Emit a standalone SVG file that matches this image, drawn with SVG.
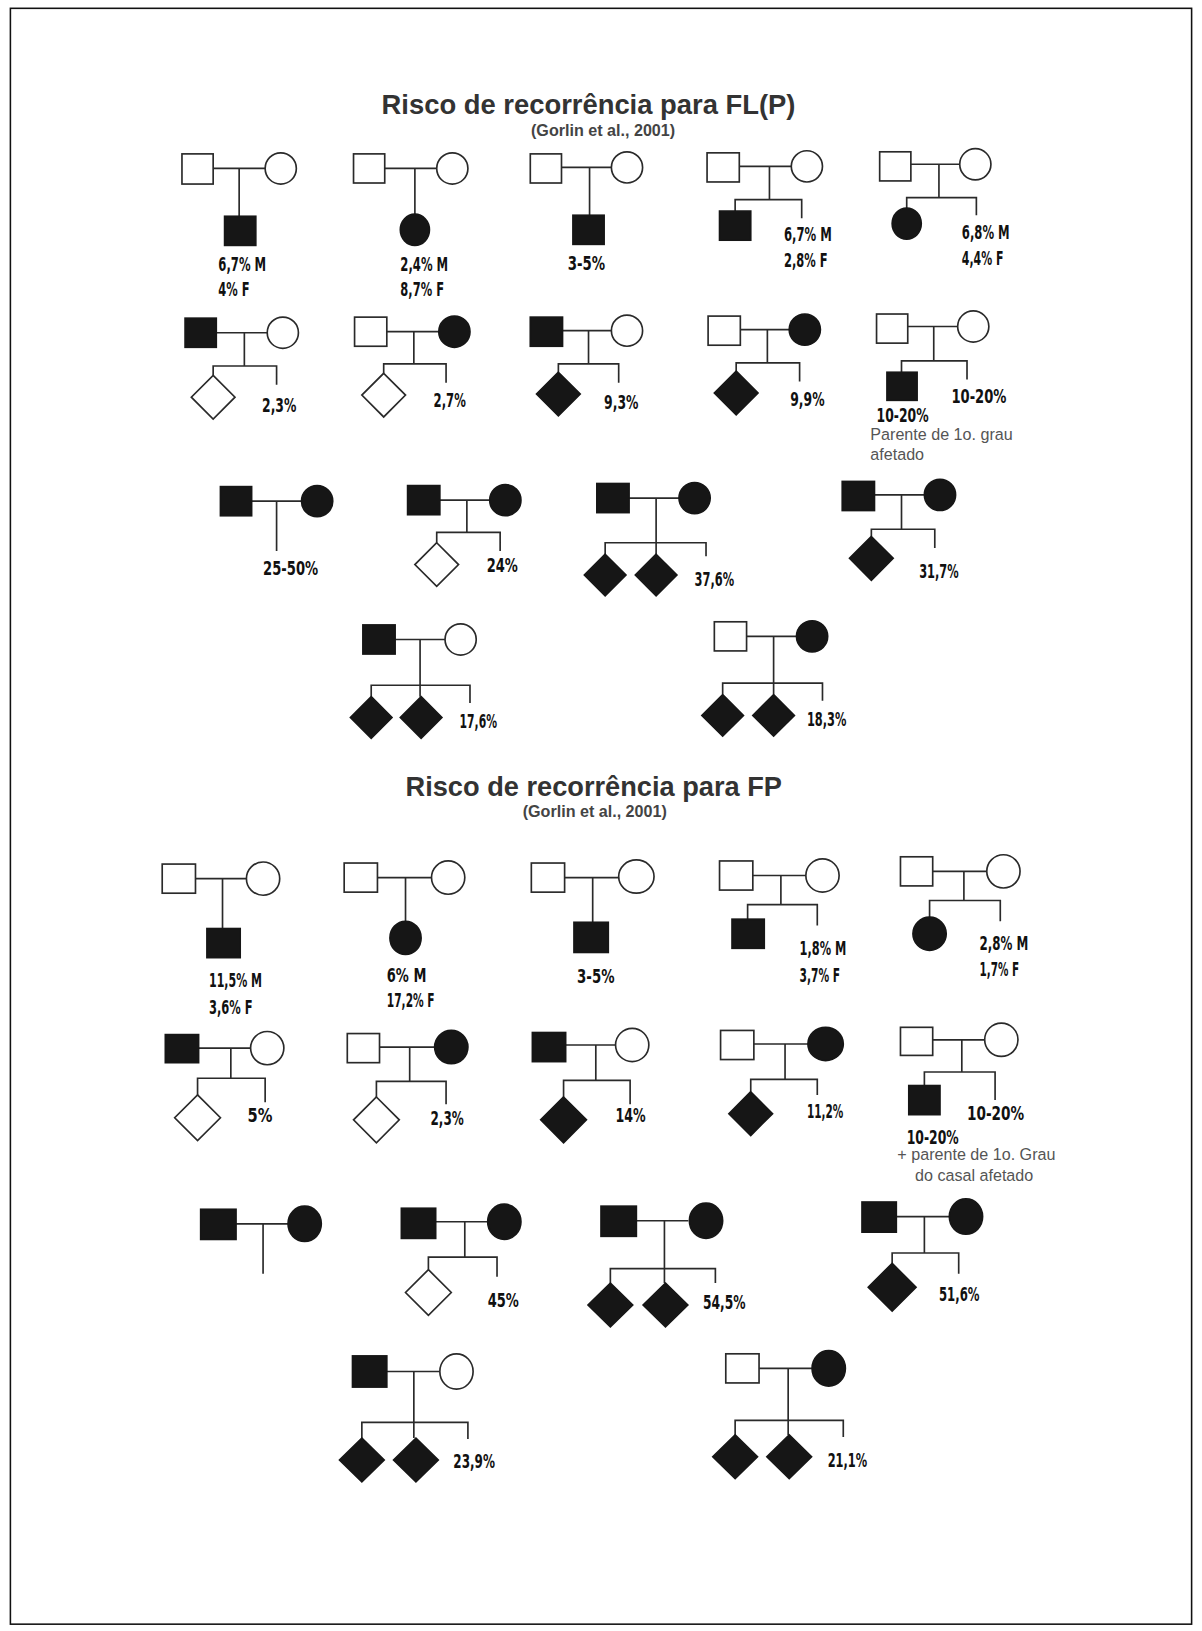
<svg xmlns="http://www.w3.org/2000/svg" width="1202" height="1631" viewBox="0 0 1202 1631">
<style>
.o{fill:#fff;stroke:#2a2a2a;stroke-width:1.6}
.f{fill:#161616;stroke:#161616;stroke-width:1.6}
.c path{fill:none;stroke:#2a2a2a;stroke-width:1.6}
.l{font-family:"DejaVu Sans Condensed","DejaVu Sans",sans-serif;font-weight:bold;font-size:18px;fill:#111}
.t1{font-family:"Liberation Sans",Arial,sans-serif;font-weight:bold;font-size:26px;fill:#333;text-anchor:middle}
.t2{font-family:"Liberation Sans",Arial,sans-serif;font-weight:bold;font-size:15.5px;fill:#444;text-anchor:middle}
.n{font-family:"Liberation Sans",Arial,sans-serif;font-size:15.5px;fill:#555}
</style>
<rect x="0" y="0" width="1202" height="1631" fill="#fff"/>
<g transform="scale(1.0398)">
<rect x="10" y="8" width="1136" height="1554" fill="none" stroke="#111" stroke-width="1.5"/>
<g id="titles">
<text class="t1" x="566" y="110" textLength="398" lengthAdjust="spacingAndGlyphs">Risco de recorrência para FL(P)</text>
<text class="t2" x="580" y="131">(Gorlin et al., 2001)</text>
<text class="t1" x="571" y="766" textLength="362" lengthAdjust="spacingAndGlyphs">Risco de recorrência para FP</text>
<text class="t2" x="572" y="786">(Gorlin et al., 2001)</text>
</g>
<g id="connectors" class="c">
<path d="M205,162H255M230,162V208"/>
<path d="M370,162H420M399,162V207"/>
<path d="M540,161H588M567,161V207"/>
<path d="M711,160H761M740,160V192M707,203V192H771V210"/>
<path d="M876,158H923M903,158V190M872,201V190H939V207"/>
<path d="M208,320H257M235,320V352M205,361V352H266V370"/>
<path d="M372,319H422M398,319V350M369,359V350H429V368"/>
<path d="M541,318H588M566,318V350M537,358V350H595V368"/>
<path d="M712,317H759M738,317V349M708,357V349H769V367"/>
<path d="M873,314H921M898,314V347M867,358V347H930V365"/>
<path d="M242,482H290M266,482V530"/>
<path d="M423,481H471M449,481V512M420,522V512H481V530"/>
<path d="M605,479H653M631,479V533M582,533V522H679V535"/>
<path d="M841,476H889M867,476V509M838,516V509H899V527"/>
<path d="M380,615H428M404,615V670M357,670V659H452V676"/>
<path d="M718,612H766M744,612V668M695,668V657H791V674"/>
<path d="M188,845H237M214,845V893"/>
<path d="M363,844H415M390,844V887"/>
<path d="M543,844H595M570,844V887"/>
<path d="M724,842H775M751,842V870M719,884V870H786V890"/>
<path d="M897,838H949M927,838V866M894,882V866H962V886"/>
<path d="M191,1008H241M222,1008V1037M190,1053V1037H255V1060"/>
<path d="M365,1007H418M394,1007V1040M362,1055V1040H429V1062"/>
<path d="M544,1005H592M573,1005V1039M542,1055V1039H606V1062"/>
<path d="M725,1004H777M755,1004V1038M722,1050V1038H786V1053"/>
<path d="M897,1000H947M925,1000V1031M889,1044V1031H957V1058"/>
<path d="M227,1177H277M253,1177V1225"/>
<path d="M419,1175H469M447,1175V1209M412,1221V1209H478V1228"/>
<path d="M611,1174H662M639,1174V1234M587,1234V1220H688V1234"/>
<path d="M862,1170H913M889,1170V1205M858,1215V1205H922V1225"/>
<path d="M372,1319H423M398,1319V1383M348,1383V1368H450V1384"/>
<path d="M730,1316H781M758,1316V1380M707,1380V1366H811V1382"/>
</g>
<g id="flp-1"><rect class="o" x="175" y="148" width="30" height="29"/><ellipse class="o" cx="270" cy="162" rx="15" ry="15"/><rect class="f" x="216" y="208" width="30" height="28"/>
<text class="l" x="210" y="261" textLength="46" lengthAdjust="spacingAndGlyphs">6,7% M</text><text class="l" x="210" y="285" textLength="30" lengthAdjust="spacingAndGlyphs">4% F</text></g>
<g id="flp-2"><rect class="o" x="340" y="148" width="30" height="28"/><ellipse class="o" cx="435" cy="162" rx="15" ry="15"/><ellipse class="f" cx="399" cy="221" rx="14" ry="15"/>
<text class="l" x="385" y="261" textLength="46" lengthAdjust="spacingAndGlyphs">2,4% M</text><text class="l" x="385" y="285" textLength="42" lengthAdjust="spacingAndGlyphs">8,7% F</text></g>
<g id="flp-3"><rect class="o" x="510" y="148" width="30" height="28"/><ellipse class="o" cx="603" cy="161" rx="15" ry="15"/><rect class="f" x="551" y="207" width="30" height="28"/>
<text class="l" x="546" y="260" textLength="36" lengthAdjust="spacingAndGlyphs">3-5%</text></g>
<g id="flp-4"><rect class="o" x="680" y="147" width="31" height="28"/><ellipse class="o" cx="776" cy="160" rx="15" ry="15"/><rect class="f" x="692" y="203" width="30" height="28"/>
<text class="l" x="754" y="232" textLength="46" lengthAdjust="spacingAndGlyphs">6,7% M</text><text class="l" x="754" y="257" textLength="42" lengthAdjust="spacingAndGlyphs">2,8% F</text></g>
<g id="flp-5"><rect class="o" x="846" y="146" width="30" height="28"/><ellipse class="o" cx="938" cy="158" rx="15" ry="15"/><ellipse class="f" cx="872" cy="215" rx="14" ry="15"/>
<text class="l" x="925" y="230" textLength="46" lengthAdjust="spacingAndGlyphs">6,8% M</text><text class="l" x="925" y="255" textLength="40" lengthAdjust="spacingAndGlyphs">4,4% F</text></g>
<g id="flp-6"><rect class="f" x="178" y="306" width="30" height="28"/><ellipse class="o" cx="272" cy="320" rx="15" ry="15"/><polygon class="o" points="205,361 226,382 205,403 184,382"/>
<text class="l" x="252" y="396" textLength="33" lengthAdjust="spacingAndGlyphs">2,3%</text></g>
<g id="flp-7"><rect class="o" x="341" y="305" width="31" height="28"/><ellipse class="f" cx="437" cy="319" rx="15" ry="15"/><polygon class="o" points="369,359 390,380 369,401 348,380"/>
<text class="l" x="417" y="391" textLength="31" lengthAdjust="spacingAndGlyphs">2,7%</text></g>
<g id="flp-8"><rect class="f" x="510" y="305" width="31" height="28"/><ellipse class="o" cx="603" cy="318" rx="15" ry="15"/><polygon class="f" points="537,358 558,379 537,400 516,379"/>
<text class="l" x="581" y="393" textLength="33" lengthAdjust="spacingAndGlyphs">9,3%</text></g>
<g id="flp-9"><rect class="o" x="681" y="304" width="31" height="28"/><ellipse class="f" cx="774" cy="317" rx="15" ry="15"/><polygon class="f" points="708,357 729,378 708,399 687,378"/>
<text class="l" x="760" y="390" textLength="33" lengthAdjust="spacingAndGlyphs">9,9%</text></g>
<g id="flp-10"><rect class="o" x="843" y="302" width="30" height="28"/><ellipse class="o" cx="936" cy="314" rx="15" ry="15"/><rect class="f" x="853" y="358" width="29" height="27"/>
<text class="l" x="915" y="388" textLength="53" lengthAdjust="spacingAndGlyphs">10-20%</text><text class="l" x="843" y="406" textLength="50" lengthAdjust="spacingAndGlyphs">10-20%</text>
<text class="n" x="837" y="423">Parente de 1o. grau</text><text class="n" x="837" y="442">afetado</text></g>
<g id="flp-11"><rect class="f" x="212" y="468" width="30" height="28"/><ellipse class="f" cx="305" cy="482" rx="15" ry="15"/>
<text class="l" x="253" y="553" textLength="53" lengthAdjust="spacingAndGlyphs">25-50%</text></g>
<g id="flp-12"><rect class="f" x="392" y="467" width="31" height="28"/><ellipse class="f" cx="486" cy="481" rx="15" ry="15"/><polygon class="o" points="420,522 441,543 420,564 399,543"/>
<text class="l" x="468" y="550" textLength="30" lengthAdjust="spacingAndGlyphs">24%</text></g>
<g id="flp-13"><rect class="f" x="574" y="465" width="31" height="28"/><ellipse class="f" cx="668" cy="479" rx="15" ry="15"/><polygon class="f" points="582,533 602,553 582,573 562,553"/><polygon class="f" points="631,533 651,553 631,573 611,553"/>
<text class="l" x="668" y="564" textLength="38" lengthAdjust="spacingAndGlyphs">37,6%</text></g>
<g id="flp-14"><rect class="f" x="810" y="463" width="31" height="28"/><ellipse class="f" cx="904" cy="476" rx="15" ry="15"/><polygon class="f" points="838,516 859,537 838,558 817,537"/>
<text class="l" x="884" y="556" textLength="38" lengthAdjust="spacingAndGlyphs">31,7%</text></g>
<g id="flp-15"><rect class="f" x="349" y="601" width="31" height="28"/><ellipse class="o" cx="443" cy="615" rx="15" ry="15"/><polygon class="f" points="357,670 377,690 357,710 337,690"/><polygon class="f" points="405,670 425,690 405,710 385,690"/>
<text class="l" x="442" y="700" textLength="36" lengthAdjust="spacingAndGlyphs">17,6%</text></g>
<g id="flp-16"><rect class="o" x="687" y="598" width="31" height="28"/><ellipse class="f" cx="781" cy="612" rx="15" ry="15"/><polygon class="f" points="695,668 715,688 695,708 675,688"/><polygon class="f" points="744,668 764,688 744,708 724,688"/>
<text class="l" x="776" y="698" textLength="38" lengthAdjust="spacingAndGlyphs">18,3%</text></g>
<g id="fp-1"><rect class="o" x="156" y="831" width="32" height="28"/><ellipse class="o" cx="253" cy="845" rx="16" ry="16"/><rect class="f" x="199" y="893" width="32" height="28"/>
<text class="l" x="201" y="949" textLength="51" lengthAdjust="spacingAndGlyphs">11,5% M</text><text class="l" x="201" y="975" textLength="42" lengthAdjust="spacingAndGlyphs">3,6% F</text></g>
<g id="fp-2"><rect class="o" x="331" y="830" width="32" height="28"/><ellipse class="o" cx="431" cy="844" rx="16" ry="16"/><ellipse class="f" cx="390" cy="902" rx="15" ry="16"/>
<text class="l" x="372" y="944" textLength="38" lengthAdjust="spacingAndGlyphs">6% M</text><text class="l" x="372" y="968" textLength="46" lengthAdjust="spacingAndGlyphs">17,2% F</text></g>
<g id="fp-3"><rect class="o" x="511" y="830" width="32" height="28"/><ellipse class="o" cx="612" cy="843" rx="17" ry="16"/><rect class="f" x="552" y="887" width="33" height="29"/>
<text class="l" x="555" y="945" textLength="36" lengthAdjust="spacingAndGlyphs">3-5%</text></g>
<g id="fp-4"><rect class="o" x="692" y="828" width="32" height="28"/><ellipse class="o" cx="791" cy="842" rx="16" ry="16"/><rect class="f" x="704" y="884" width="31" height="28"/>
<text class="l" x="769" y="918" textLength="45" lengthAdjust="spacingAndGlyphs">1,8% M</text><text class="l" x="769" y="944" textLength="39" lengthAdjust="spacingAndGlyphs">3,7% F</text></g>
<g id="fp-5"><rect class="o" x="866" y="824" width="31" height="28"/><ellipse class="o" cx="965" cy="838" rx="16" ry="16"/><ellipse class="f" cx="894" cy="898" rx="16" ry="16"/>
<text class="l" x="942" y="914" textLength="47" lengthAdjust="spacingAndGlyphs">2,8% M</text><text class="l" x="942" y="939" textLength="38" lengthAdjust="spacingAndGlyphs">1,7% F</text></g>
<g id="fp-6"><rect class="f" x="159" y="995" width="32" height="27"/><ellipse class="o" cx="257" cy="1008" rx="16" ry="16"/><polygon class="o" points="190,1053 212,1075 190,1097 168,1075"/>
<text class="l" x="238" y="1079" textLength="24" lengthAdjust="spacingAndGlyphs">5%</text></g>
<g id="fp-7"><rect class="o" x="334" y="994" width="31" height="28"/><ellipse class="f" cx="434" cy="1007" rx="16" ry="16"/><polygon class="o" points="362,1055 384,1077 362,1099 340,1077"/>
<text class="l" x="414" y="1082" textLength="32" lengthAdjust="spacingAndGlyphs">2,3%</text></g>
<g id="fp-8"><rect class="f" x="512" y="993" width="32" height="28"/><ellipse class="o" cx="608" cy="1005" rx="16" ry="16"/><polygon class="f" points="542,1055 564,1077 542,1099 520,1077"/>
<text class="l" x="592" y="1079" textLength="29" lengthAdjust="spacingAndGlyphs">14%</text></g>
<g id="fp-9"><rect class="o" x="693" y="991" width="32" height="28"/><ellipse class="f" cx="794" cy="1004" rx="17" ry="16"/><polygon class="f" points="722,1050 743,1071 722,1092 701,1071"/>
<text class="l" x="776" y="1075" textLength="35" lengthAdjust="spacingAndGlyphs">11,2%</text></g>
<g id="fp-10"><rect class="o" x="866" y="988" width="31" height="27"/><ellipse class="o" cx="963" cy="1000" rx="16" ry="16"/><rect class="f" x="874" y="1044" width="30" height="28"/>
<text class="l" x="930" y="1077" textLength="55" lengthAdjust="spacingAndGlyphs">10-20%</text><text class="l" x="872" y="1100" textLength="50" lengthAdjust="spacingAndGlyphs">10-20%</text>
<text class="n" x="863" y="1116">+ parente de 1o. Grau</text><text class="n" x="880" y="1136">do casal afetado</text></g>
<g id="fp-11"><rect class="f" x="193" y="1163" width="34" height="29"/><ellipse class="f" cx="293" cy="1177" rx="16" ry="17"/></g>
<g id="fp-12"><rect class="f" x="386" y="1162" width="33" height="29"/><ellipse class="f" cx="485" cy="1175" rx="16" ry="17"/><polygon class="o" points="412,1221 434,1243 412,1265 390,1243"/>
<text class="l" x="469" y="1257" textLength="30" lengthAdjust="spacingAndGlyphs">45%</text></g>
<g id="fp-13"><rect class="f" x="578" y="1160" width="34" height="29"/><ellipse class="f" cx="679" cy="1174" rx="16" ry="17"/><polygon class="f" points="587,1234 608.5,1255 587,1276 565.5,1255"/><polygon class="f" points="640,1234 661.5,1255 640,1276 618.5,1255"/>
<text class="l" x="676" y="1259" textLength="41" lengthAdjust="spacingAndGlyphs">54,5%</text></g>
<g id="fp-14"><rect class="f" x="829" y="1156" width="33" height="29"/><ellipse class="f" cx="929" cy="1170" rx="16" ry="17"/><polygon class="f" points="858,1215 881,1238 858,1261 835,1238"/>
<text class="l" x="903" y="1251" textLength="39" lengthAdjust="spacingAndGlyphs">51,6%</text></g>
<g id="fp-15"><rect class="f" x="339" y="1304" width="33" height="30"/><ellipse class="o" cx="439" cy="1319" rx="16" ry="17"/><polygon class="f" points="348,1383 369.5,1404 348,1425 326.5,1404"/><polygon class="f" points="400,1383 421.5,1404 400,1425 378.5,1404"/>
<text class="l" x="436" y="1412" textLength="40" lengthAdjust="spacingAndGlyphs">23,9%</text></g>
<g id="fp-16"><rect class="o" x="698" y="1302" width="32" height="28"/><ellipse class="f" cx="797" cy="1316" rx="16" ry="17"/><polygon class="f" points="707,1380 728.5,1401 707,1422 685.5,1401"/><polygon class="f" points="759,1380 780.5,1401 759,1422 737.5,1401"/>
<text class="l" x="796" y="1411" textLength="38" lengthAdjust="spacingAndGlyphs">21,1%</text></g>
</g>
</svg>
